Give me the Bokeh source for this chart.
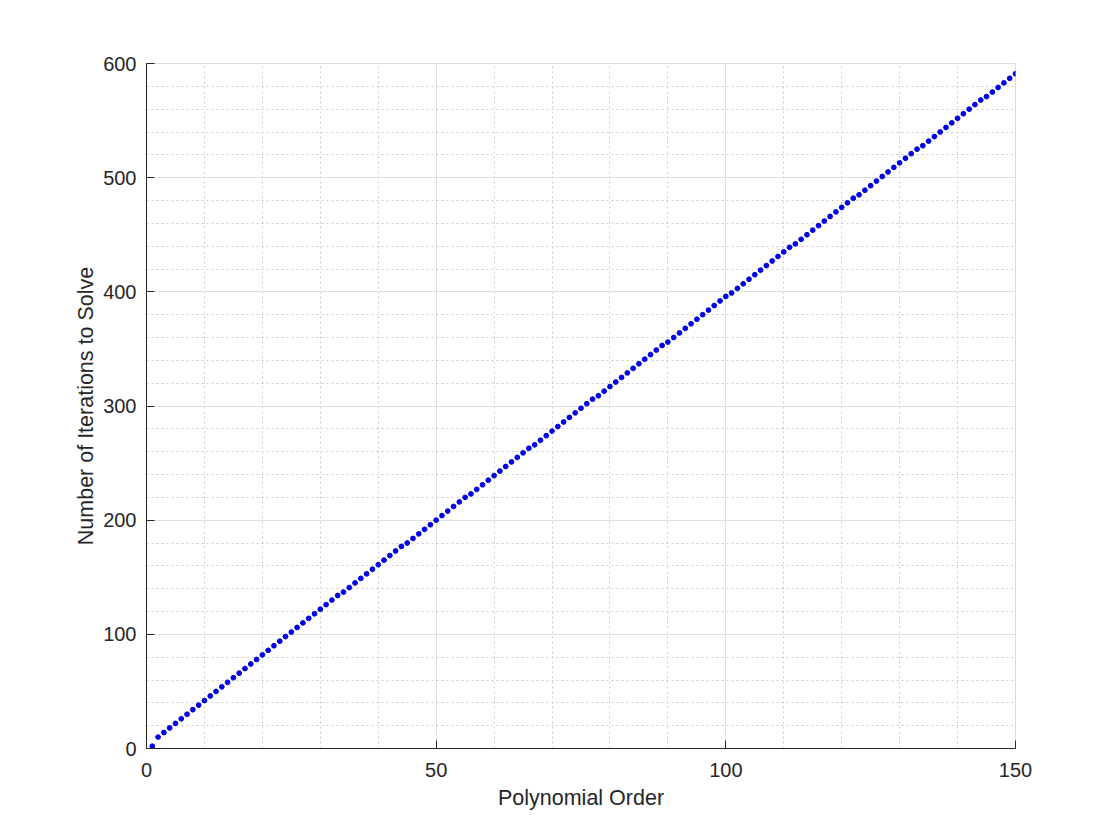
from bokeh.plotting import figure
from bokeh.models import Range1d, FixedTicker, ColumnDataSource
from bokeh.embed import file_html
from bokeh.resources import INLINE

# Data
orders = list(range(1, 151))
iterations = [
    2, 10, 14, 18, 22, 26, 30, 34, 38, 42,
    46, 50, 54, 58, 62, 66, 70, 74, 78, 82,
    86, 90, 94, 98, 102, 106, 110, 114, 118, 122,
    126, 130, 134, 137, 141, 145, 149, 153, 157, 161,
    165, 169, 173, 177, 180, 184, 188, 192, 196, 200,
    204, 208, 212, 216, 220, 223, 227, 231, 235, 239,
    243, 247, 251, 255, 259, 263, 266, 270, 274, 278,
    282, 286, 290, 294, 298, 302, 306, 309, 313, 317,
    321, 325, 329, 333, 337, 341, 345, 349, 353, 356,
    360, 364, 368, 372, 376, 380, 384, 388, 392, 396,
    399, 403, 407, 411, 415, 419, 423, 427, 431, 435,
    439, 442, 446, 450, 454, 458, 462, 466, 470, 474,
    478, 482, 485, 489, 493, 497, 501, 505, 509, 513,
    517, 521, 525, 528, 532, 536, 540, 544, 548, 552,
    556, 560, 564, 568, 571, 575, 579, 583, 587, 591,
]
x_ticks = [0, 50, 100, 150]
x_minor = list(range(0, 151, 10))
y_ticks = [0, 100, 200, 300, 400, 500, 600]
y_minor = list(range(0, 601, 20))
x_label = "Polynomial Order"
y_label = "Number of Iterations to Solve"

FONT = "Liberation Sans"
TXT = "#262626"

p = figure(width=1100, height=820, output_backend="svg", toolbar_location=None,
           x_range=Range1d(0, 150), y_range=Range1d(0, 600),
           min_border_left=146, min_border_right=85,
           min_border_top=63, min_border_bottom=72)
p.background_fill_color = "white"
p.border_fill_color = "white"
p.outline_line_color = "#dcdcdc"
p.outline_line_width = 1

src = ColumnDataSource(dict(x=orders, y=iterations))
p.scatter("x", "y", source=src, size=4.8, fill_color="#0000e6", line_color="#0000e6")

p.xaxis.ticker = FixedTicker(ticks=x_ticks, minor_ticks=x_minor)
p.yaxis.ticker = FixedTicker(ticks=y_ticks, minor_ticks=y_minor)

for ax in (p.xaxis, p.yaxis):
    ax.axis_line_color = TXT
    ax.axis_line_width = 1
    ax.major_tick_in = 8
    ax.major_tick_out = 0
    ax.minor_tick_in = 0
    ax.minor_tick_out = 0
    ax.major_tick_line_color = TXT
    ax.major_label_text_font = FONT
    ax.major_label_text_font_size = "20px"
    ax.major_label_text_color = TXT
    ax.axis_label_text_font = FONT
    ax.axis_label_text_font_size = "21.5px"
    ax.axis_label_text_font_style = "normal"
    ax.axis_label_text_color = TXT

p.xaxis.axis_label = x_label
p.yaxis.axis_label = y_label
p.xaxis.major_label_standoff = 14
p.yaxis.major_label_standoff = 10
p.xaxis.axis_label_standoff = 6
p.yaxis.axis_label_standoff = 2

for g in (p.xgrid, p.ygrid):
    g.grid_line_color = "#dfdfdf"
    g.grid_line_width = 1
    g.minor_grid_line_color = "#cccccc"
    g.minor_grid_line_dash = "2 3"
    g.minor_grid_line_width = 1

open("out.html", "w").write(file_html(p, INLINE))
